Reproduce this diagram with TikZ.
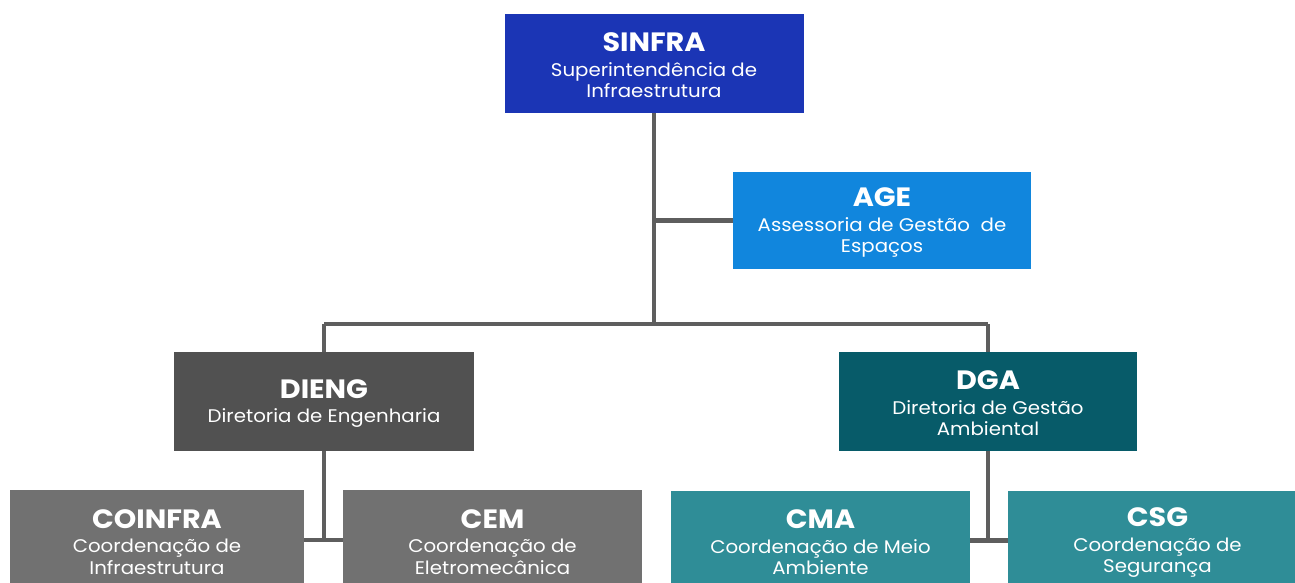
\documentclass[tikz,border=0pt]{standalone}
\usepackage{fontspec}
\setmainfont{Poppins}[FakeStretch=1.08]
\definecolor{cSinfra}{HTML}{1B35B5}
\definecolor{cAge}{HTML}{1186DD}
\definecolor{cDieng}{HTML}{515151}
\definecolor{cDga}{HTML}{075B69}
\definecolor{cCoord}{HTML}{717171}
\definecolor{cTeal}{HTML}{2F8D97}
\definecolor{cLine}{HTML}{5E5E5E}
\newcommand{\ttl}[1]{{\fontsize{26.5}{21.5}\selectfont\bfseries\rule{0pt}{23pt}#1}\\[3pt]}
\tikzset{
  orgbox/.style={rectangle, draw=none, text=white, align=center, inner sep=0pt,
    minimum width=299pt, minimum height=99pt, font=\fontsize{18.3}{21.5}\selectfont},
  link/.style={draw=cLine, line width=4.5pt}
}
\begin{document}
\begin{tikzpicture}[x=1pt,y=-1pt]
\useasboundingbox (0,0) rectangle (1295,583);
\clip (0,0) rectangle (1295,583);
\fill[white] (0,0) rectangle (1295,583);
\coordinate (bus) at (654,324);
\node[orgbox, fill=cSinfra] (sinfra) at (654,63.5) {\ttl{SINFRA}Superintendência de\\Infraestrutura};
\node[orgbox, fill=cAge, minimum width=298pt, minimum height=97pt] (age) at (882,220.5) {\ttl{AGE}Assessoria de Gestão\ \ de\\Espaços};
\node[orgbox, fill=cDieng, minimum width=300pt] (dieng) at (324,401.5) {\ttl{DIENG}Diretoria de Engenharia};
\node[orgbox, fill=cDga, minimum width=298pt] (dga) at (988,401.5) {\ttl{DGA}Diretoria de Gestão\\Ambiental};
\node[orgbox, fill=cCoord, minimum width=294pt, minimum height=100pt] (coinfra) at (157,540) {\ttl{COINFRA}Coordenação de\\Infraestrutura};
\node[orgbox, fill=cCoord, minimum height=100pt] (cem) at (492.5,540) {\ttl{CEM}Coordenação de\\Eletromecânica};
\node[orgbox, fill=cTeal] (cma) at (820.5,540.5) {\ttl{CMA}Coordenação de Meio\\Ambiente};
\node[orgbox, fill=cTeal] (csg) at (1157.5,540.5) {\ttl{CSG}Coordenação de\\Segurança};
\draw[link] (sinfra.south) -- (bus);
\draw[link] (age.west) -- (age.west -| bus);
\draw[link] (dieng.north |- bus) -- (dga.north |- bus);
\draw[link] (dieng.north |- bus) -- (dieng.north);
\draw[link] (dga.north |- bus) -- (dga.north);
\draw[link] (dieng.south) -- (dieng.south |- coinfra.east);
\draw[link] (coinfra.east) -- (cem.west);
\draw[link] (dga.south) -- (dga.south |- cma.east);
\draw[link] (cma.east) -- (csg.west);
\end{tikzpicture}
\end{document}
